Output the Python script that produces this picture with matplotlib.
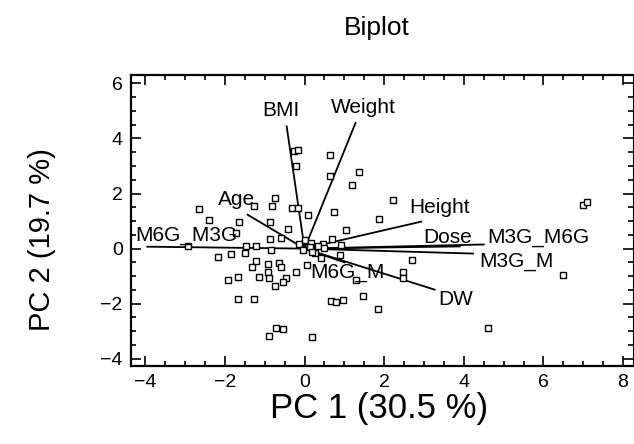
import matplotlib
matplotlib.use("Agg")
import matplotlib.pyplot as plt
from matplotlib.ticker import MultipleLocator

plt.rcParams['font.family'] = ['Liberation Sans', 'DejaVu Sans']

# Scores (PC1, PC2)
score_x = [-2.64, -2.41, -1.64, -0.74, -0.81, -1.26, 0.08, -0.88, -0.42, -0.88,
           -0.60, -1.47, -1.22, -0.84, -2.18, -1.84, -1.50, -1.23, -1.31, -0.92,
           -0.65, -0.60, -0.92, -1.15, -0.90, -0.46, -0.21, -0.55, -0.75, -1.68,
           -1.93, -1.68, -1.26, -0.90, -0.71, -0.55, 0.19, -0.21, -0.26, -0.17,
           0.65, 1.37, 0.65, 1.20, 2.22, -0.31, -0.16, 0.75, 1.86, 1.05,
           0.70, 0.46, 0.92, 0.00, 0.17, 0.25, 0.42, 0.88, 2.70, 0.06,
           2.47, 1.30, 0.67, 0.80, 0.96, 1.48, 1.84, 6.99, 7.09, 6.50,
           4.60, -1.72, -2.94, 2.47, -0.13, 0.13, 0.33, 0.50, 0.18, -0.03]
score_y = [1.44, 1.04, 0.95, 1.82, 1.53, 1.56, 1.22, 0.95, 0.71, 0.35,
           0.40, 0.11, 0.11, -0.05, -0.31, -0.18, -0.17, -0.44, -0.67, -0.55,
           -0.51, -0.65, -0.84, -1.02, -1.08, -1.05, -0.84, -1.20, -1.35, -1.02,
           -1.14, -1.84, -1.84, -3.16, -2.89, -2.92, -3.22, 2.99, 3.55, 3.59,
           3.38, 2.78, 2.62, 2.31, 1.75, 1.47, 1.47, 1.34, 1.06, 0.69,
           0.35, 0.15, 0.13, 0.32, 0.19, -0.17, -0.35, -0.23, -0.41, -0.60,
           -0.84, -1.14, -1.90, -1.94, -1.87, -1.71, -2.18, 1.60, 1.68, -0.94,
           -2.89, 0.55, 0.11, -1.08, 0.15, 0.07, 0.11, 0.04, -0.11, -0.04]

# Loadings (arrow ends) and labels
var_names = ['BMI', 'Weight', 'Height', 'Dose', 'M3G_M6G', 'M3G_M',
             'DW', 'M6G_M', 'Age', 'M6G_M3G']
load_x = [-0.45, 1.28, 2.93, 3.90, 4.50, 4.23, 3.27, 1.00, -1.43, -3.95]
load_y = [4.44, 4.56, 0.98, 0.08, 0.15, -0.18, -1.49, -0.50, 1.23, 0.07]
label_x = [-0.60, 1.48, 3.40, 3.60, 5.86, 5.33, 3.80, 1.08, -1.71, -2.97]
label_y = [5.02, 5.13, 1.49, 0.40, 0.40, -0.47, -1.85, -0.87, 1.78, 0.47]

title = 'Biplot'
xlabel = 'PC 1 (30.5 %)'
ylabel = 'PC 2 (19.7 %)'

fig = plt.figure(figsize=(6.34, 4.44), dpi=100)
ax = fig.add_axes([0.2066, 0.1757, 0.7918, 0.6553])

for lx, ly in zip(load_x, load_y):
    ax.plot([0, lx], [0, ly], color='black', lw=1.3, zorder=2)

ax.plot(score_x, score_y, linestyle='none', marker='s', markersize=4,
        mfc='white', mec='black', mew=1.0, zorder=3)

for name, tx, ty in zip(var_names, label_x, label_y):
    ax.text(tx, ty, name, ha='center', va='center', fontsize=15, zorder=4)

ax.set_xlim(-4.36, 8.25)
ax.set_ylim(-4.26, 6.3)
ax.xaxis.set_major_locator(MultipleLocator(2))
ax.xaxis.set_minor_locator(MultipleLocator(0.5))
ax.yaxis.set_major_locator(MultipleLocator(2))
ax.yaxis.set_minor_locator(MultipleLocator(0.5))
ax.tick_params(which='both', direction='in', top=True, right=True,
               labelsize=14, width=1.2)
ax.tick_params(which='major', length=7, pad=6)
ax.tick_params(which='minor', length=3.5)
for s in ax.spines.values():
    s.set_linewidth(1.6)
ax.spines['right'].set_linewidth(0.8)

ax.set_xlabel(xlabel, fontsize=25)
ax.xaxis.set_label_coords(0.494, -0.09)
ax.set_ylabel(ylabel, fontsize=21)
ax.yaxis.set_label_coords(-0.15, 0.433)
fig.text(0.595, 0.937, title, ha='center', va='center', fontsize=19)

fig.savefig('out.png', dpi=100)
